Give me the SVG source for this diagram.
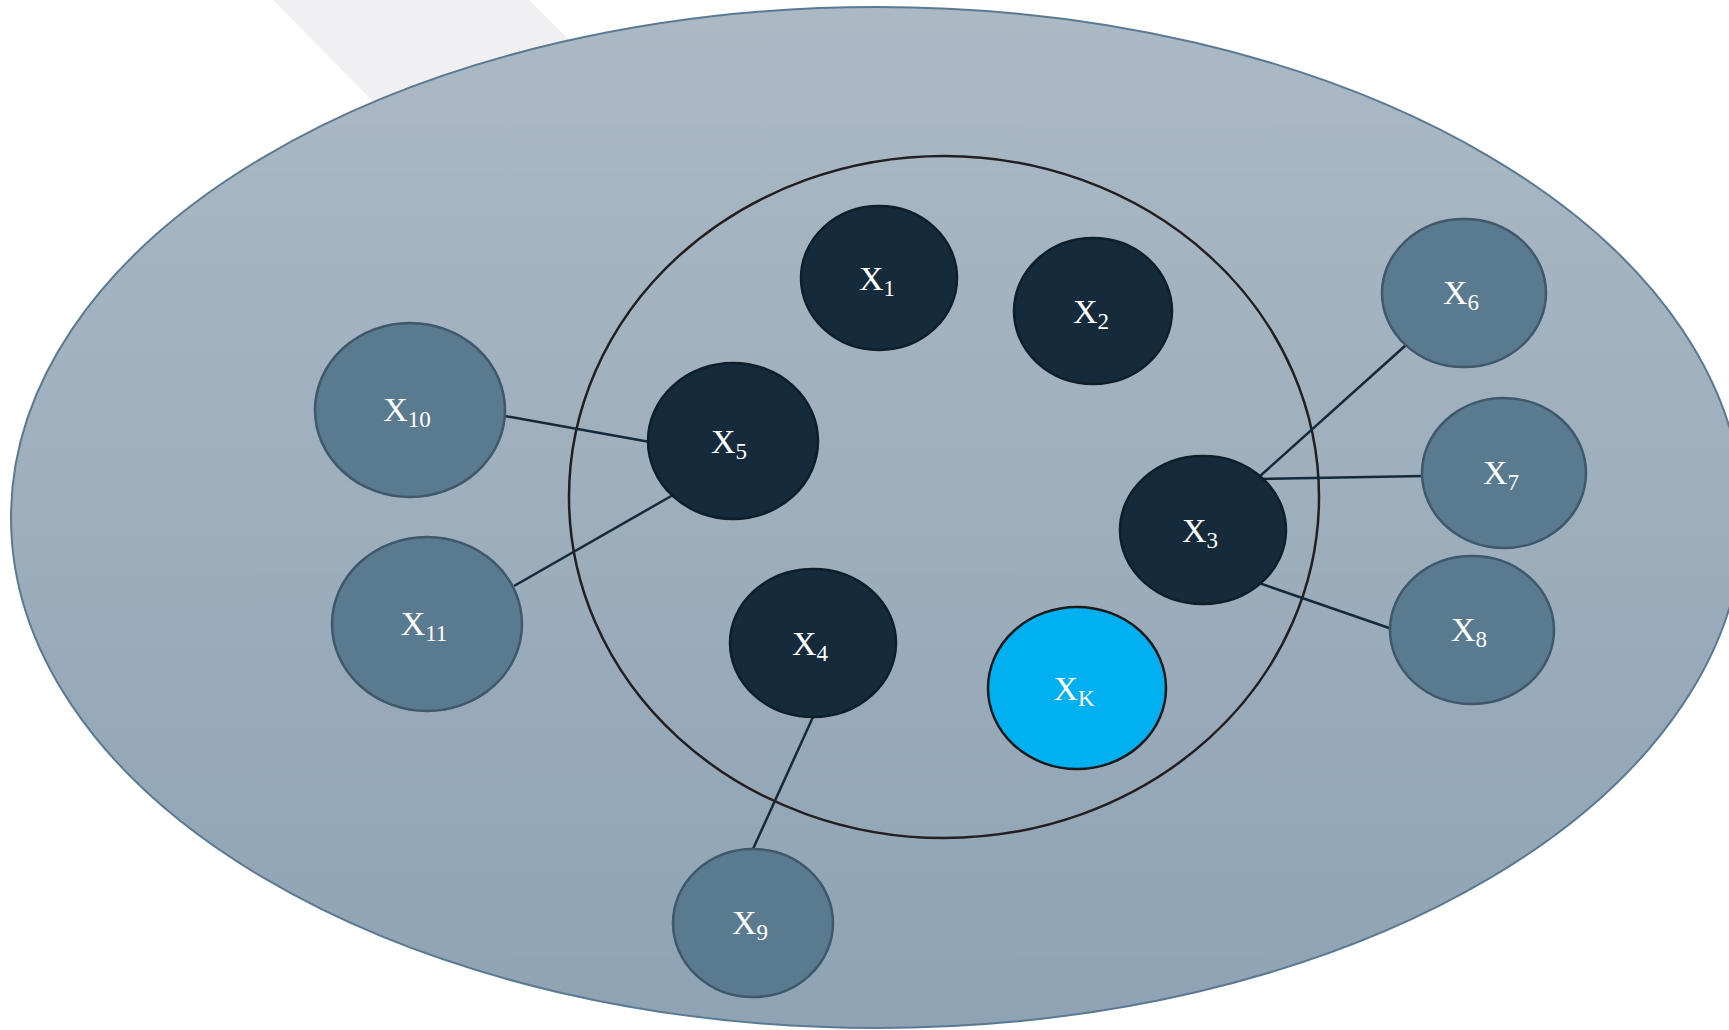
<svg xmlns="http://www.w3.org/2000/svg" width="1729" height="1030" viewBox="0 0 1729 1030">
<defs>
<linearGradient id="bg" x1="0" y1="0" x2="0" y2="1">
<stop offset="0" stop-color="#abb9c5"/>
<stop offset="1" stop-color="#8fa3b4"/>
</linearGradient>
<style>
.core{fill:#152a3b;stroke:#0e1f2c;stroke-width:2.5}
.outer{fill:#5a7a8f;stroke:#3f586b;stroke-width:2.5}
.key{fill:#00b0f0;stroke:#1a1a1a;stroke-width:2.5}
.lbl{font-family:"Liberation Serif","Times New Roman",serif;font-size:34px;fill:#ffffff;text-anchor:middle}
.sub{font-size:23px}
.edge{stroke:#14293a;stroke-width:2.5;fill:none}
</style>
</defs>
<rect width="1729" height="1030" fill="#ffffff"/>
<polygon points="273,0 529,0 720,190 460,190" fill="#f0f0f2"/>
<ellipse cx="877" cy="517.5" rx="866" ry="510.5" fill="url(#bg)" stroke="#5a7a93" stroke-width="2"/>
<ellipse cx="944" cy="497" rx="375" ry="341" fill="none" stroke="#231f20" stroke-width="2.5"/>
<g id="connectors">
<line class="edge" x1="505" y1="416" x2="650" y2="442"/>
<line class="edge" x1="514" y1="586" x2="673" y2="495"/>
<line class="edge" x1="1259" y1="477" x2="1406" y2="345"/>
<line class="edge" x1="1259" y1="479" x2="1424" y2="476"/>
<line class="edge" x1="1259" y1="583" x2="1392" y2="629"/>
<line class="edge" x1="813" y1="717" x2="753" y2="849"/>
</g>
<g id="X1"><ellipse class="core" cx="879" cy="278" rx="78" ry="72"/><text class="lbl" x="877" y="290">X<tspan class="sub" dy="6">1</tspan></text></g>
<g id="X2"><ellipse class="core" cx="1093" cy="311" rx="79" ry="73"/><text class="lbl" x="1091" y="323">X<tspan class="sub" dy="6">2</tspan></text></g>
<g id="X5"><ellipse class="core" cx="733" cy="441" rx="85" ry="78"/><text class="lbl" x="729" y="453">X<tspan class="sub" dy="6">5</tspan></text></g>
<g id="X3"><ellipse class="core" cx="1203" cy="530" rx="83" ry="74"/><text class="lbl" x="1200" y="542">X<tspan class="sub" dy="6">3</tspan></text></g>
<g id="X4"><ellipse class="core" cx="813" cy="643" rx="83" ry="74"/><text class="lbl" x="810" y="655">X<tspan class="sub" dy="6">4</tspan></text></g>
<g id="XK"><ellipse class="key" cx="1077" cy="688" rx="89" ry="81"/><text class="lbl" x="1074" y="700">X<tspan class="sub" dy="6">K</tspan></text></g>
<g id="X10"><ellipse class="outer" cx="410" cy="410" rx="95" ry="87"/><text class="lbl" x="407" y="421">X<tspan class="sub" dy="6">10</tspan></text></g>
<g id="X11"><ellipse class="outer" cx="427" cy="624" rx="95" ry="87"/><text class="lbl" x="424" y="635">X<tspan class="sub" dy="6">11</tspan></text></g>
<g id="X6"><ellipse class="outer" cx="1464" cy="293" rx="82" ry="74"/><text class="lbl" x="1461" y="304">X<tspan class="sub" dy="6">6</tspan></text></g>
<g id="X7"><ellipse class="outer" cx="1504" cy="473" rx="82" ry="75"/><text class="lbl" x="1501" y="484">X<tspan class="sub" dy="6">7</tspan></text></g>
<g id="X8"><ellipse class="outer" cx="1472" cy="630" rx="82" ry="74"/><text class="lbl" x="1469" y="641">X<tspan class="sub" dy="6">8</tspan></text></g>
<g id="X9"><ellipse class="outer" cx="753" cy="923" rx="80" ry="74"/><text class="lbl" x="750" y="934">X<tspan class="sub" dy="6">9</tspan></text></g>
</svg>
